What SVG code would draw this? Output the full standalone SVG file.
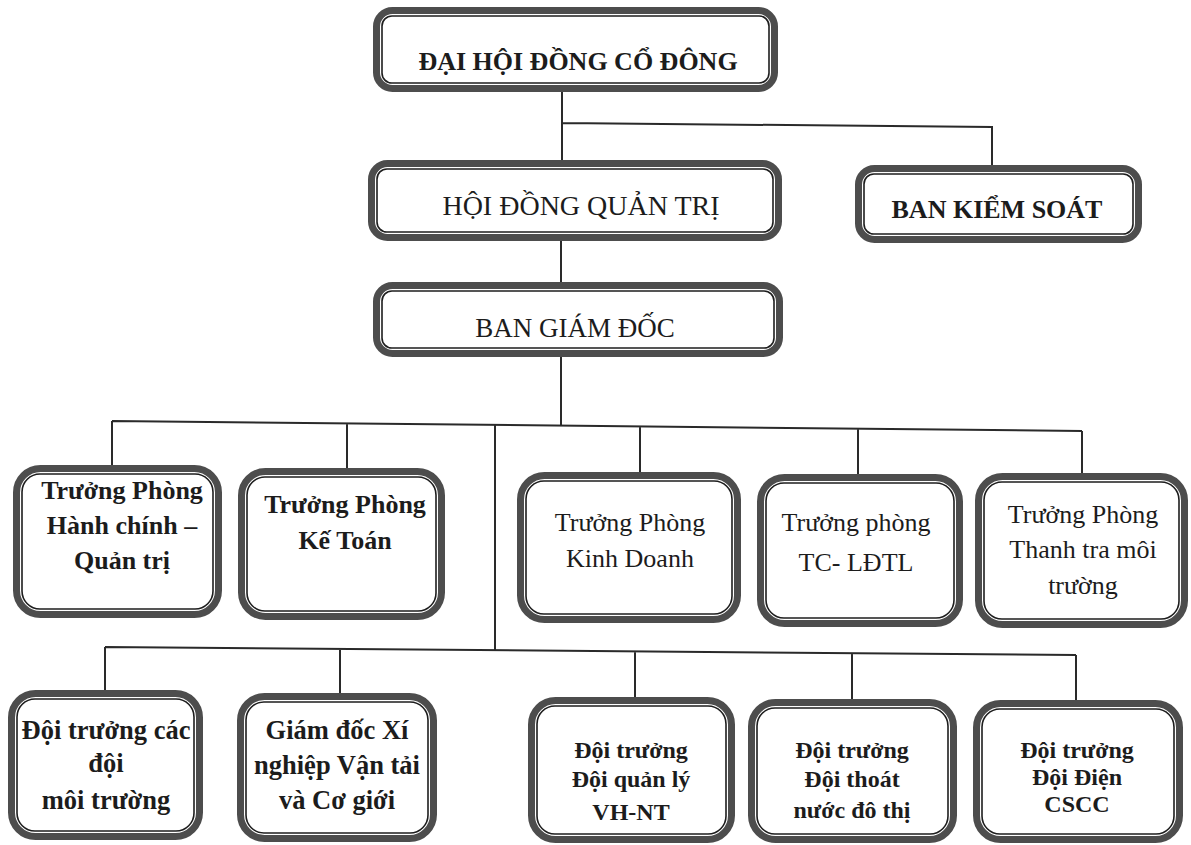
<svg xmlns="http://www.w3.org/2000/svg" width="1191" height="845" viewBox="0 0 1191 845">
<style>
.o{fill:#fff;stroke:#4d4d4d;stroke-width:7}
.i{fill:none;stroke:#1e1e1e;stroke-width:1.6}
.c{fill:none;stroke:#2a2a2a;stroke-width:2}
.tx{font-family:'Liberation Serif',Tinos,'Times New Roman','DejaVu Serif',serif;fill:#1c1c1c;text-anchor:middle}
.b{font-weight:bold}
.t2{font-size:26px}
.t3{font-size:26.5px}
.t4{font-size:24px}
</style>
<rect width="1191" height="845" fill="#fff"/>
<g id="connectors">
<path class="c" d="M562 92V160M562 123L992 127V165M561 241V282M561 357V425.6"/>
<path class="c" d="M112 421L1082 431M112 421V465M347 423.4V468M640 426.4V472M858 428.7V474M1082 431V473"/>
<path class="c" d="M495 425V650.2"/>
<path class="c" d="M105 647L1076 655M105 647V690M340 649V693M635 651.4V697M852 653.2V699M1076 655V700"/>
</g>
<g class="tx">
<g id="dhdcd">
<rect class="o" x="376.5" y="10.5" width="398" height="78" rx="16"/>
<rect class="i" x="382" y="16" width="387" height="67" rx="10"/>
<text class="b" font-size="26" x="578" y="70">ĐẠI HỘI ĐỒNG CỔ  ĐÔNG</text>
</g>
<g id="hdqt">
<rect class="o" x="371.5" y="163.5" width="407" height="74" rx="16"/>
<rect class="i" x="377" y="169" width="396" height="63" rx="10"/>
<text font-size="28" x="581" y="215">HỘI ĐỒNG QUẢN TRỊ</text>
</g>
<g id="bks">
<rect class="o" x="858.5" y="168.5" width="280" height="71" rx="16"/>
<rect class="i" x="864" y="174" width="269" height="60" rx="10"/>
<text class="b" font-size="26" x="997" y="218">BAN KIỂM SOÁT</text>
</g>
<g id="bgd">
<rect class="o" x="376.5" y="285.5" width="403" height="68" rx="16"/>
<rect class="i" x="382" y="291" width="392" height="57" rx="10"/>
<text font-size="27" x="575" y="337">BAN GIÁM ĐỐC</text>
</g>
<g id="hcqt">
<rect class="o" x="16.5" y="468.5" width="202" height="146" rx="24"/>
<rect class="i" x="22" y="474" width="191" height="135" rx="18"/>
<text class="b t2" x="122" y="499">Trưởng Phòng</text>
<text class="b t2" x="122" y="534">Hành chính –</text>
<text class="b t2" x="122" y="569">Quản trị</text>
</g>
<g id="ketoan">
<rect class="o" x="241.5" y="471.5" width="200" height="145" rx="24"/>
<rect class="i" x="247" y="477" width="189" height="134" rx="18"/>
<text class="b t2" x="345" y="513">Trưởng Phòng</text>
<text class="b t2" x="345" y="549">Kế Toán</text>
</g>
<g id="kinhdoanh">
<rect class="o" x="520.5" y="475.5" width="217" height="144" rx="24"/>
<rect class="i" x="526" y="481" width="206" height="133" rx="18"/>
<text class="t2" x="630" y="531">Trưởng Phòng</text>
<text class="t2" x="630" y="567">Kinh Doanh</text>
</g>
<g id="tcldtl">
<rect class="o" x="760.5" y="477.5" width="199" height="146" rx="24"/>
<rect class="i" x="766" y="483" width="188" height="135" rx="18"/>
<text class="t2" x="856" y="531">Trưởng phòng</text>
<text class="t2" x="856" y="571">TC- LĐTL</text>
</g>
<g id="thanhtra">
<rect class="o" x="978.5" y="476.5" width="206" height="148" rx="24"/>
<rect class="i" x="984" y="482" width="195" height="137" rx="18"/>
<text class="t2" x="1083" y="523">Trưởng Phòng</text>
<text class="t2" x="1083" y="558">Thanh tra môi</text>
<text class="t2" x="1083" y="594">trường</text>
</g>
<g id="doimt">
<rect class="o" x="11.5" y="693.5" width="188" height="143" rx="24"/>
<rect class="i" x="17" y="699" width="177" height="132" rx="18"/>
<text class="b t3" x="106" y="739">Đội trưởng các</text>
<text class="b t3" x="106" y="772">đội</text>
<text class="b t3" x="106" y="809">môi trường</text>
</g>
<g id="xnvt">
<rect class="o" x="240.5" y="696.5" width="193" height="142" rx="24"/>
<rect class="i" x="246" y="702" width="182" height="131" rx="18"/>
<text class="b t3" x="337" y="739">Giám đốc Xí</text>
<text class="b t3" x="337" y="774">nghiệp Vận tải</text>
<text class="b t3" x="337" y="809">và Cơ giới</text>
</g>
<g id="vhnt">
<rect class="o" x="531.5" y="700.5" width="200" height="139" rx="24"/>
<rect class="i" x="537" y="706" width="189" height="128" rx="18"/>
<text class="b t4" x="631" y="758">Đội trưởng</text>
<text class="b t4" x="631" y="787">Đội quản lý</text>
<text class="b t4" x="631" y="820">VH-NT</text>
</g>
<g id="thoatnuoc">
<rect class="o" x="751.5" y="702.5" width="202" height="137" rx="24"/>
<rect class="i" x="757" y="708" width="191" height="126" rx="18"/>
<text class="b t4" x="852" y="758">Đội trưởng</text>
<text class="b t4" x="852" y="787">Đội thoát</text>
<text class="b t4" x="852" y="818">nước đô thị</text>
</g>
<g id="dien">
<rect class="o" x="976.5" y="703.5" width="203" height="136" rx="24"/>
<rect class="i" x="982" y="709" width="192" height="125" rx="18"/>
<text class="b t4" x="1077" y="758">Đội trưởng</text>
<text class="b t4" x="1077" y="785">Đội Điện</text>
<text class="b t4" x="1077" y="812">CSCC</text>
</g>
</g>
</svg>
